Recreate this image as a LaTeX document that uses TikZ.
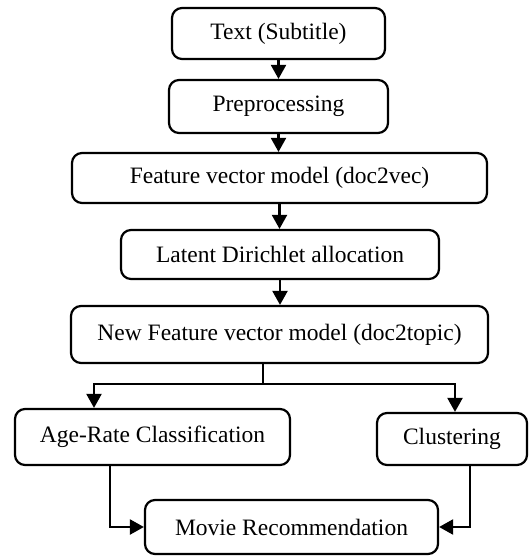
\documentclass[tikz,border=0pt]{standalone}
\usepackage{fontspec}
\setmainfont{Liberation Serif}
\usetikzlibrary{arrows.meta}
\begin{document}
\begin{tikzpicture}[x=1pt,y=-1pt,
 box/.style={draw, line width=2.2pt, rounded corners=10pt, inner sep=0pt, align=center, font=\fontsize{23.5}{28}\selectfont},
 arr/.style={line width=2.2pt, -{Triangle[width=15pt,length=14pt]}},
 ln/.style={line width=2.2pt}]
\useasboundingbox (0,0) rectangle (529,557);
\node[box, minimum width=213pt, minimum height=51pt] (t1) at (278.5,33.5) {Text (Subtitle)};
\node[box, minimum width=219pt, minimum height=53pt] (t2) at (278.5,106.5) {Preprocessing};
\node[box, minimum width=415pt, minimum height=50pt] (t3) at (279.5,178) {Feature vector model (doc2vec)};
\node[box, minimum width=318pt, minimum height=49pt] (t4) at (280,254.5) {Latent Dirichlet allocation};
\node[box, minimum width=417pt, minimum height=57pt] (t5) at (279.5,334.5) {New Feature vector model (doc2topic)};
\node[box, minimum width=275pt, minimum height=56pt] (t6) at (152.5,437) {Age-Rate Classification};
\node[box, minimum width=150pt, minimum height=52pt] (t7) at (452,439) {Clustering};
\node[box, minimum width=293pt, minimum height=54pt] (t8) at (291.5,527) {Movie Recommendation};
\coordinate (b) at (263,384);
\coordinate (bl) at (94,384);
\coordinate (br) at (455,384);
\coordinate (a1) at (110,0);
\coordinate (c1) at (470,0);
\draw[arr] (t1.south) -- (t1.south |- t2.north);
\draw[arr] (t2.south) -- (t2.south |- t3.north);
\draw[arr] (t3.south) -- (t3.south |- t4.north);
\draw[arr] (t4.south) -- (t4.south |- t5.north);
\draw[ln] (t5.south -| b) -- (b);
\draw[arr] (b) -- (bl) -- (bl |- t6.north);
\draw[arr] (b) -- (br) -- (br |- t7.north);
\draw[arr] (t6.south -| a1) |- (t8.west);
\draw[arr] (t7.south -| c1) |- (t8.east);
\end{tikzpicture}
\end{document}
